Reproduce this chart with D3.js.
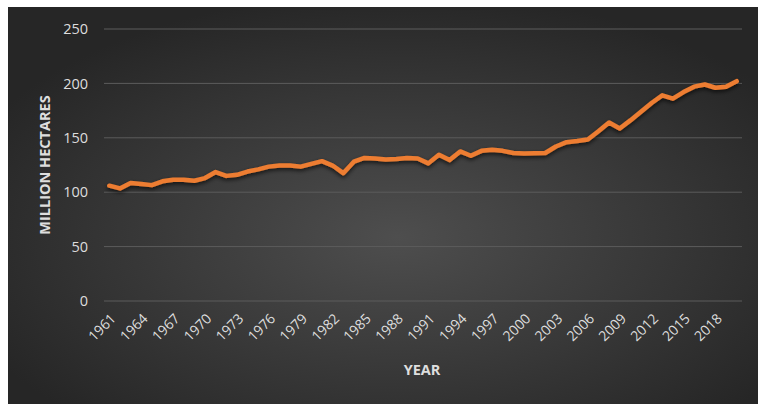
<!DOCTYPE html>
<html>
<head>
<meta charset="utf-8">
<script src="https://cdn.jsdelivr.net/npm/d3@7"></script>
<style>
  body { margin: 0; background: #fff; }
  svg { display: block; }
</style>
</head>
<body>
<div id="graph"></div>
<script>
const width = 758,
  height = 404;

// values (million hectares)
const years = d3.range(1961, 2021);
const hectares = [
  106, 103.5, 108.5, 107.5, 106.5, 110, 111.5, 111.5, 110.5, 113,
  118.5, 115, 116, 119, 121, 123.5, 124.5, 124.5, 123.5, 126,
  128.5, 124.5, 117.5, 128, 131.5, 131, 130, 130.5, 131.5, 131,
  126.5, 134.5, 129.5, 137.5, 133.5, 138, 139, 138, 136, 135.5,
  135.7, 136, 142, 146, 147, 148.5, 156, 164, 158.5, 166,
  174, 182, 189, 186, 192, 197, 199, 196, 197, 202
];
const yTicks = [0, 50, 100, 150, 200, 250];
const xTickYears = d3.range(1961, 2021, 3);

const data = years.map((y, i) => ({ year: y, value: hectares[i] }));

const margin = { left: 104, right: 16, top: 29, bottom: 103 };

const svg = d3.select("#graph").append("svg")
  .attr("width", width)
  .attr("height", height);

const defs = svg.append("defs");
const grad = defs.append("radialGradient")
  .attr("id", "bg")
  .attr("cx", "52%").attr("cy", "58%").attr("r", "62%");
grad.append("stop").attr("offset", "0%").attr("stop-color", "#4e4e4e");
grad.append("stop").attr("offset", "100%").attr("stop-color", "#262626");

const shadow = defs.append("filter")
  .attr("id", "shadow")
  .attr("x", "-5%").attr("y", "-20%").attr("width", "110%").attr("height", "140%");
shadow.append("feDropShadow")
  .attr("dx", 0).attr("dy", 2)
  .attr("stdDeviation", 2)
  .attr("flood-color", "#000")
  .attr("flood-opacity", 0.7);

svg.append("rect")
  .attr("x", 8).attr("y", 7)
  .attr("width", width - 8).attr("height", height - 7)
  .attr("fill", "url(#bg)");

const x = d3.scaleBand()
  .domain(years)
  .range([margin.left, width - margin.right]);

const y = d3.scaleLinear()
  .domain([0, 250])
  .range([height - margin.bottom, margin.top]);

// gridlines
svg.append("g")
  .selectAll("line")
  .data(yTicks)
  .join("line")
  .attr("x1", margin.left)
  .attr("x2", width - margin.right)
  .attr("y1", d => y(d))
  .attr("y2", d => y(d))
  .attr("stroke", "#5c5c5c")
  .attr("stroke-width", 1);

// y axis labels
const yAxis = svg.append("g")
  .attr("transform", `translate(${margin.left - 16},0)`)
  .call(d3.axisLeft(y).tickValues(yTicks).tickSize(0).tickPadding(0));
yAxis.select(".domain").remove();
yAxis.selectAll("text")
  .attr("fill", "#dedede")
  .attr("font-family", "'Open Sans', sans-serif")
  .attr("font-size", 14.5);

// x axis labels, rotated
svg.append("g")
  .selectAll("text")
  .data(xTickYears)
  .join("text")
  .attr("transform", d => `translate(${x(d) + x.bandwidth() / 2 + 4},${height - margin.bottom + 15}) rotate(-45)`)
  .attr("text-anchor", "end")
  .attr("dy", "0.35em")
  .attr("fill", "#dedede")
  .attr("font-family", "'Open Sans', sans-serif")
  .attr("font-size", 14)
  .text(d => d);

// line
const line = d3.line()
  .x(d => x(d.year) + x.bandwidth() / 2)
  .y(d => y(d.value));

svg.append("path")
  .datum(data)
  .attr("fill", "none")
  .attr("stroke", "#ed7d31")
  .attr("stroke-width", 4.5)
  .attr("stroke-linejoin", "round")
  .attr("stroke-linecap", "round")
  .attr("filter", "url(#shadow)")
  .attr("d", line);

// axis titles
svg.append("text")
  .attr("transform", `translate(50,165) rotate(-90)`)
  .attr("text-anchor", "middle")
  .attr("fill", "#dedede")
  .attr("font-family", "'Open Sans', sans-serif")
  .attr("font-weight", "bold")
  .attr("font-size", 14.5)
  .text("MILLION HECTARES");

svg.append("text")
  .attr("x", 422)
  .attr("y", 375)
  .attr("text-anchor", "middle")
  .attr("fill", "#dedede")
  .attr("font-family", "'Open Sans', sans-serif")
  .attr("font-weight", "bold")
  .attr("font-size", 14.5)
  .text("YEAR");
</script>
</body>
</html>
